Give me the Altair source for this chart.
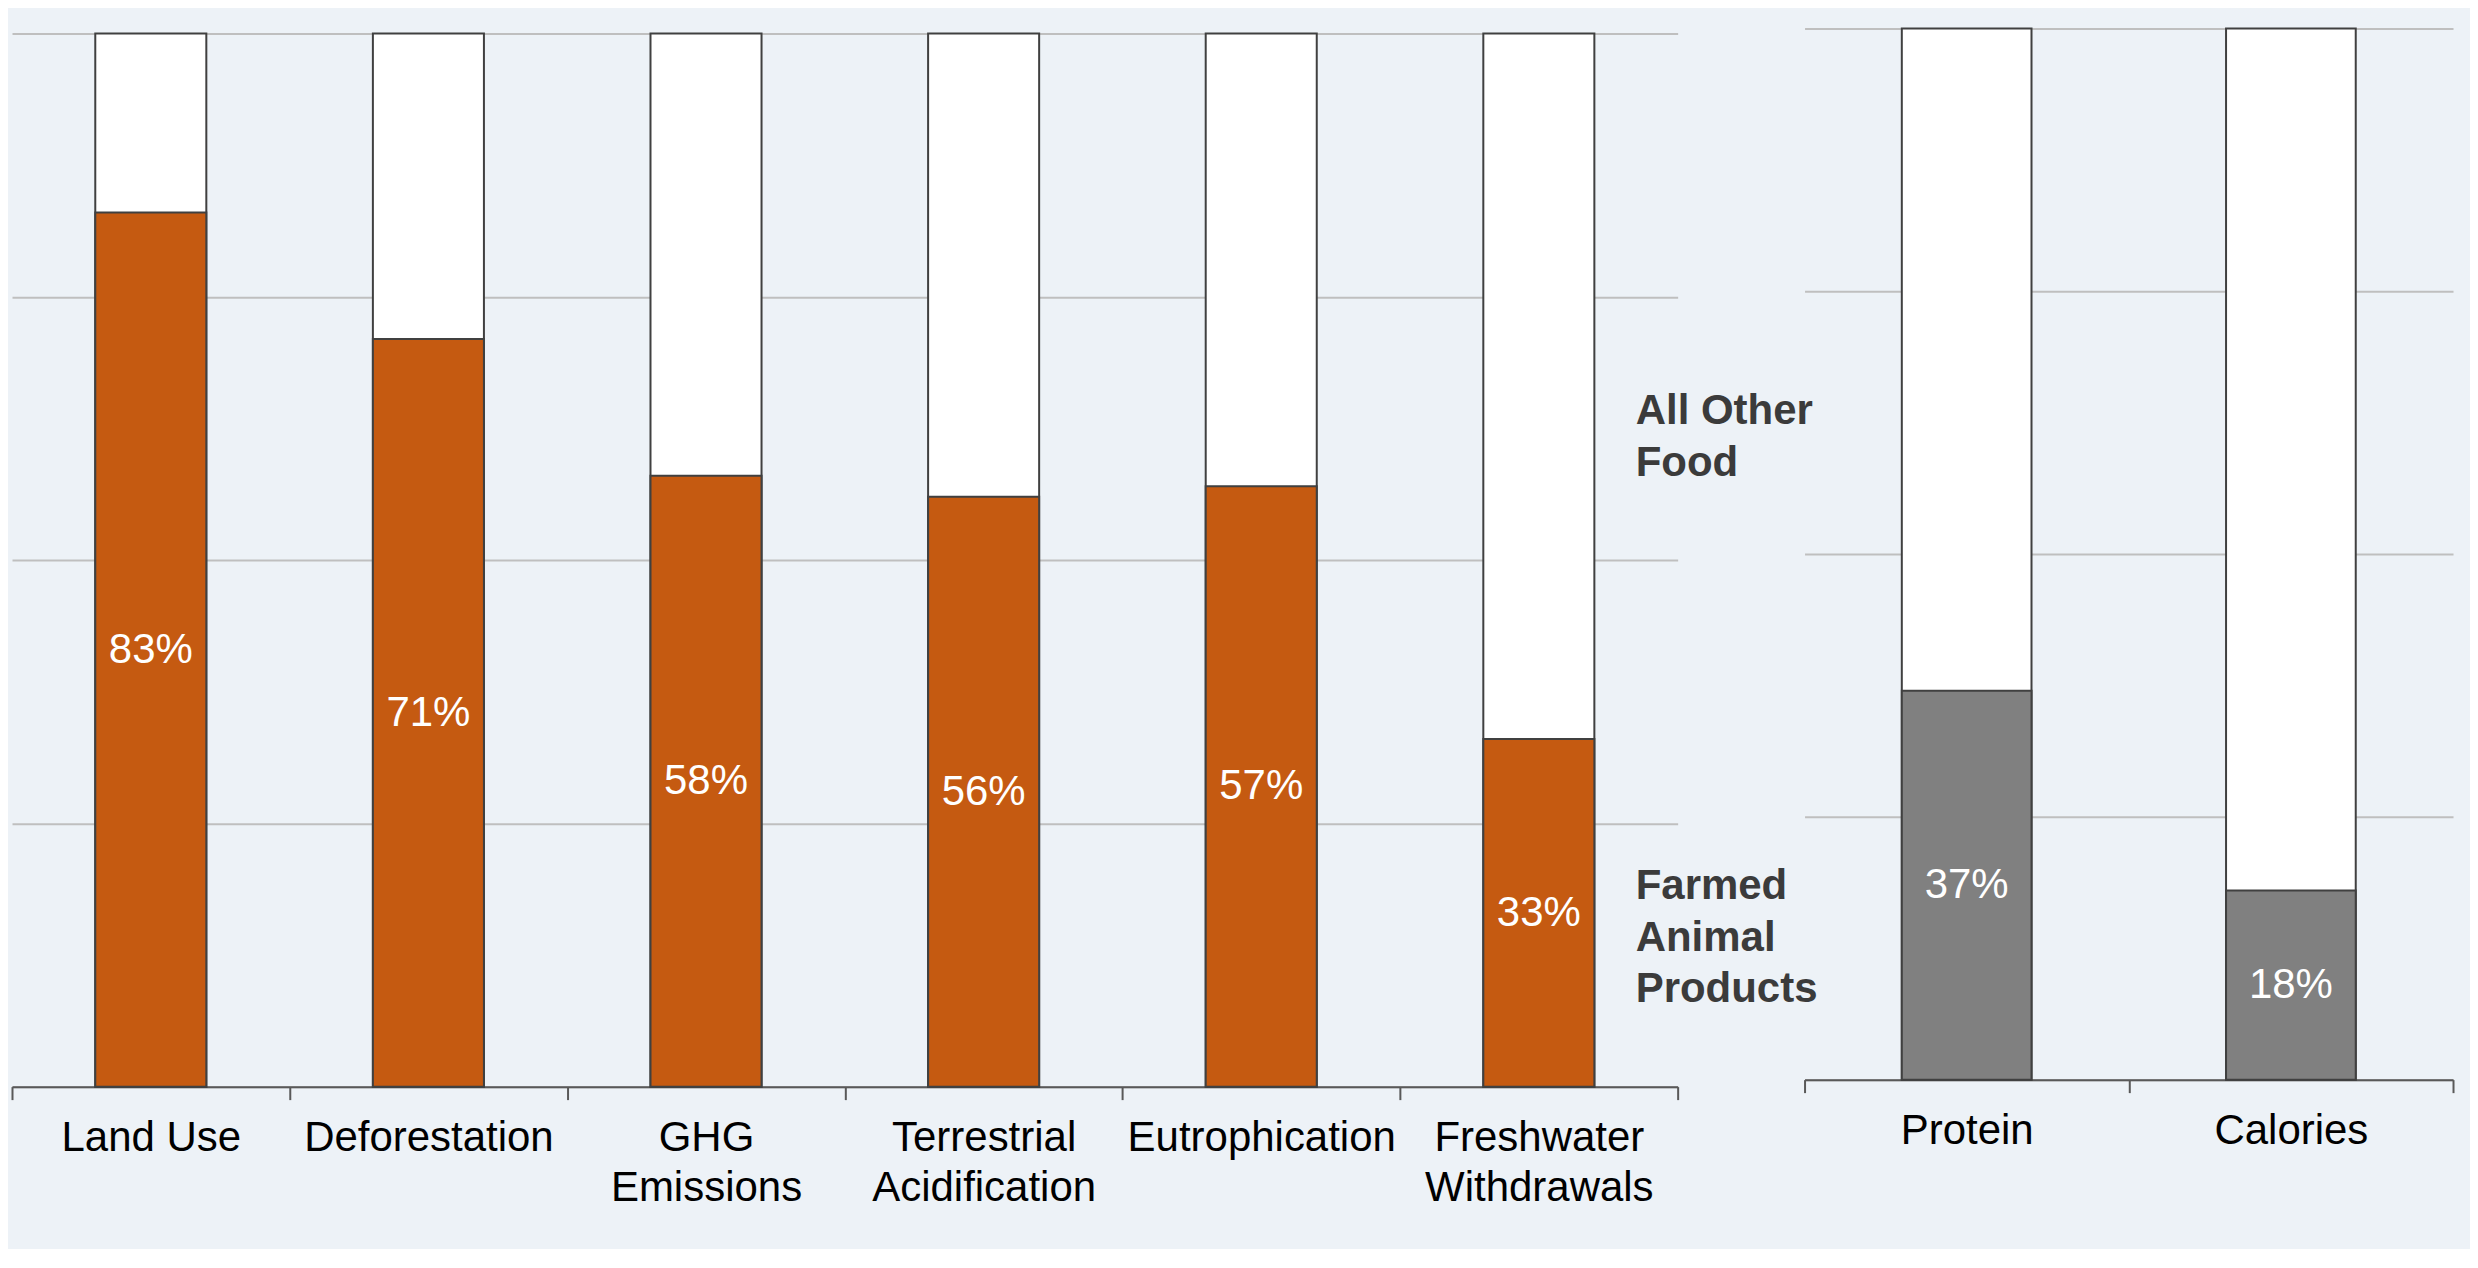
import altair as alt
import pandas as pd

# ---- data ----
impact_categories = ["Land Use", "Deforestation", "GHG|Emissions",
                     "Terrestrial|Acidification", "Eutrophication", "Freshwater|Withdrawals"]
impact_shares = [0.83, 0.71, 0.58, 0.56, 0.57, 0.33]

diet_categories = ["Protein", "Calories"]
diet_shares = [0.37, 0.18]

legend_texts = ["All Other|Food", "Farmed|Animal|Products"]

# ---- styles ----
ORANGE = "#C55A11"
GREY = "#808080"
STROKE = "#404040"
BG = "#EDF2F7"
FONT = "Liberation Sans"
LEGEND_Y = [0.629, 0.178]   # vertical anchor of the two legend blocks (data units of the left panel)
BAR_W = alt.RelativeBandSize(0.4)


def make_df(cats, shares):
    return pd.DataFrame({
        "cat": cats,
        "share": shares,
        "total": [1.0] * len(cats),
        "mid": [s / 2 for s in shares],
        "label": [f"{round(s * 100)}%" for s in shares],
    })


def panel(df, cats, color, yrange=None):
    x = alt.X("cat:N", sort=cats, title=None,
              scale=alt.Scale(paddingInner=0, paddingOuter=0),
              axis=alt.Axis(labelAngle=0, labelExpr="split(datum.label, '|')",
                            tickBand="extent", labelOverlap=False, labelLimit=0,
                            grid=False))
    ysc = alt.Scale(domain=[0, 1], range=yrange) if yrange else alt.Scale(domain=[0, 1])
    yaxis = alt.Axis(values=[0, 0.25, 0.5, 0.75, 1], labels=False, ticks=False,
                     domain=False, grid=True, title=None)
    base = alt.Chart(df)
    white = base.mark_bar(fill="white", stroke=STROKE, strokeWidth=2, width=BAR_W).encode(
        x=x, y=alt.Y("total:Q", scale=ysc, axis=yaxis))
    part = base.mark_bar(fill=color, stroke=STROKE, strokeWidth=2, width=BAR_W).encode(
        x=x, y=alt.Y("share:Q", scale=ysc, axis=yaxis))
    txt = base.mark_text(color="white", font=FONT, fontSize=42, baseline="middle").encode(
        x=x, y=alt.Y("mid:Q", scale=ysc, axis=yaxis), text="label:N")
    return [white, part, txt], ysc, yaxis


left_df = make_df(impact_categories, impact_shares)
right_df = make_df(diet_categories, diet_shares)

left_layers, lsc, lax = panel(left_df, impact_categories, ORANGE, yrange=[1059, 5])
legend_df = pd.DataFrame({"lbl": legend_texts, "ly": LEGEND_Y})
legend = alt.Chart(legend_df).transform_calculate(
    lines="split(datum.lbl, '|')"
).mark_text(align="left", baseline="alphabetic", font=FONT, fontSize=42,
            fontWeight="bold", color="#3B3B3B", lineHeight=51.5).encode(
    x=alt.value(1625), y=alt.Y("ly:Q", scale=lsc, axis=lax), text="lines:N")

left = alt.layer(*left_layers, legend).properties(width=1667, height=1059)

right_layers, _, _ = panel(right_df, diet_categories, GREY)
right = alt.layer(*right_layers).properties(width=649, height=1052)

chart = alt.hconcat(left, right, spacing=127, bounds="flush").properties(
    padding={"left": 3, "top": 19, "right": 16, "bottom": 40},
    background=BG,
).configure_view(stroke=None).configure_axis(
    labelFont=FONT, labelFontSize=42, labelColor="#000000", labelLineHeight=50,
    labelPadding=18, tickSize=13, tickColor="#595959", tickWidth=2,
    domainColor="#595959", domainWidth=2, gridColor="#BFBFBF", gridWidth=2,
)

chart.save("out.html", embed_options={"renderer": "svg", "actions": False})
